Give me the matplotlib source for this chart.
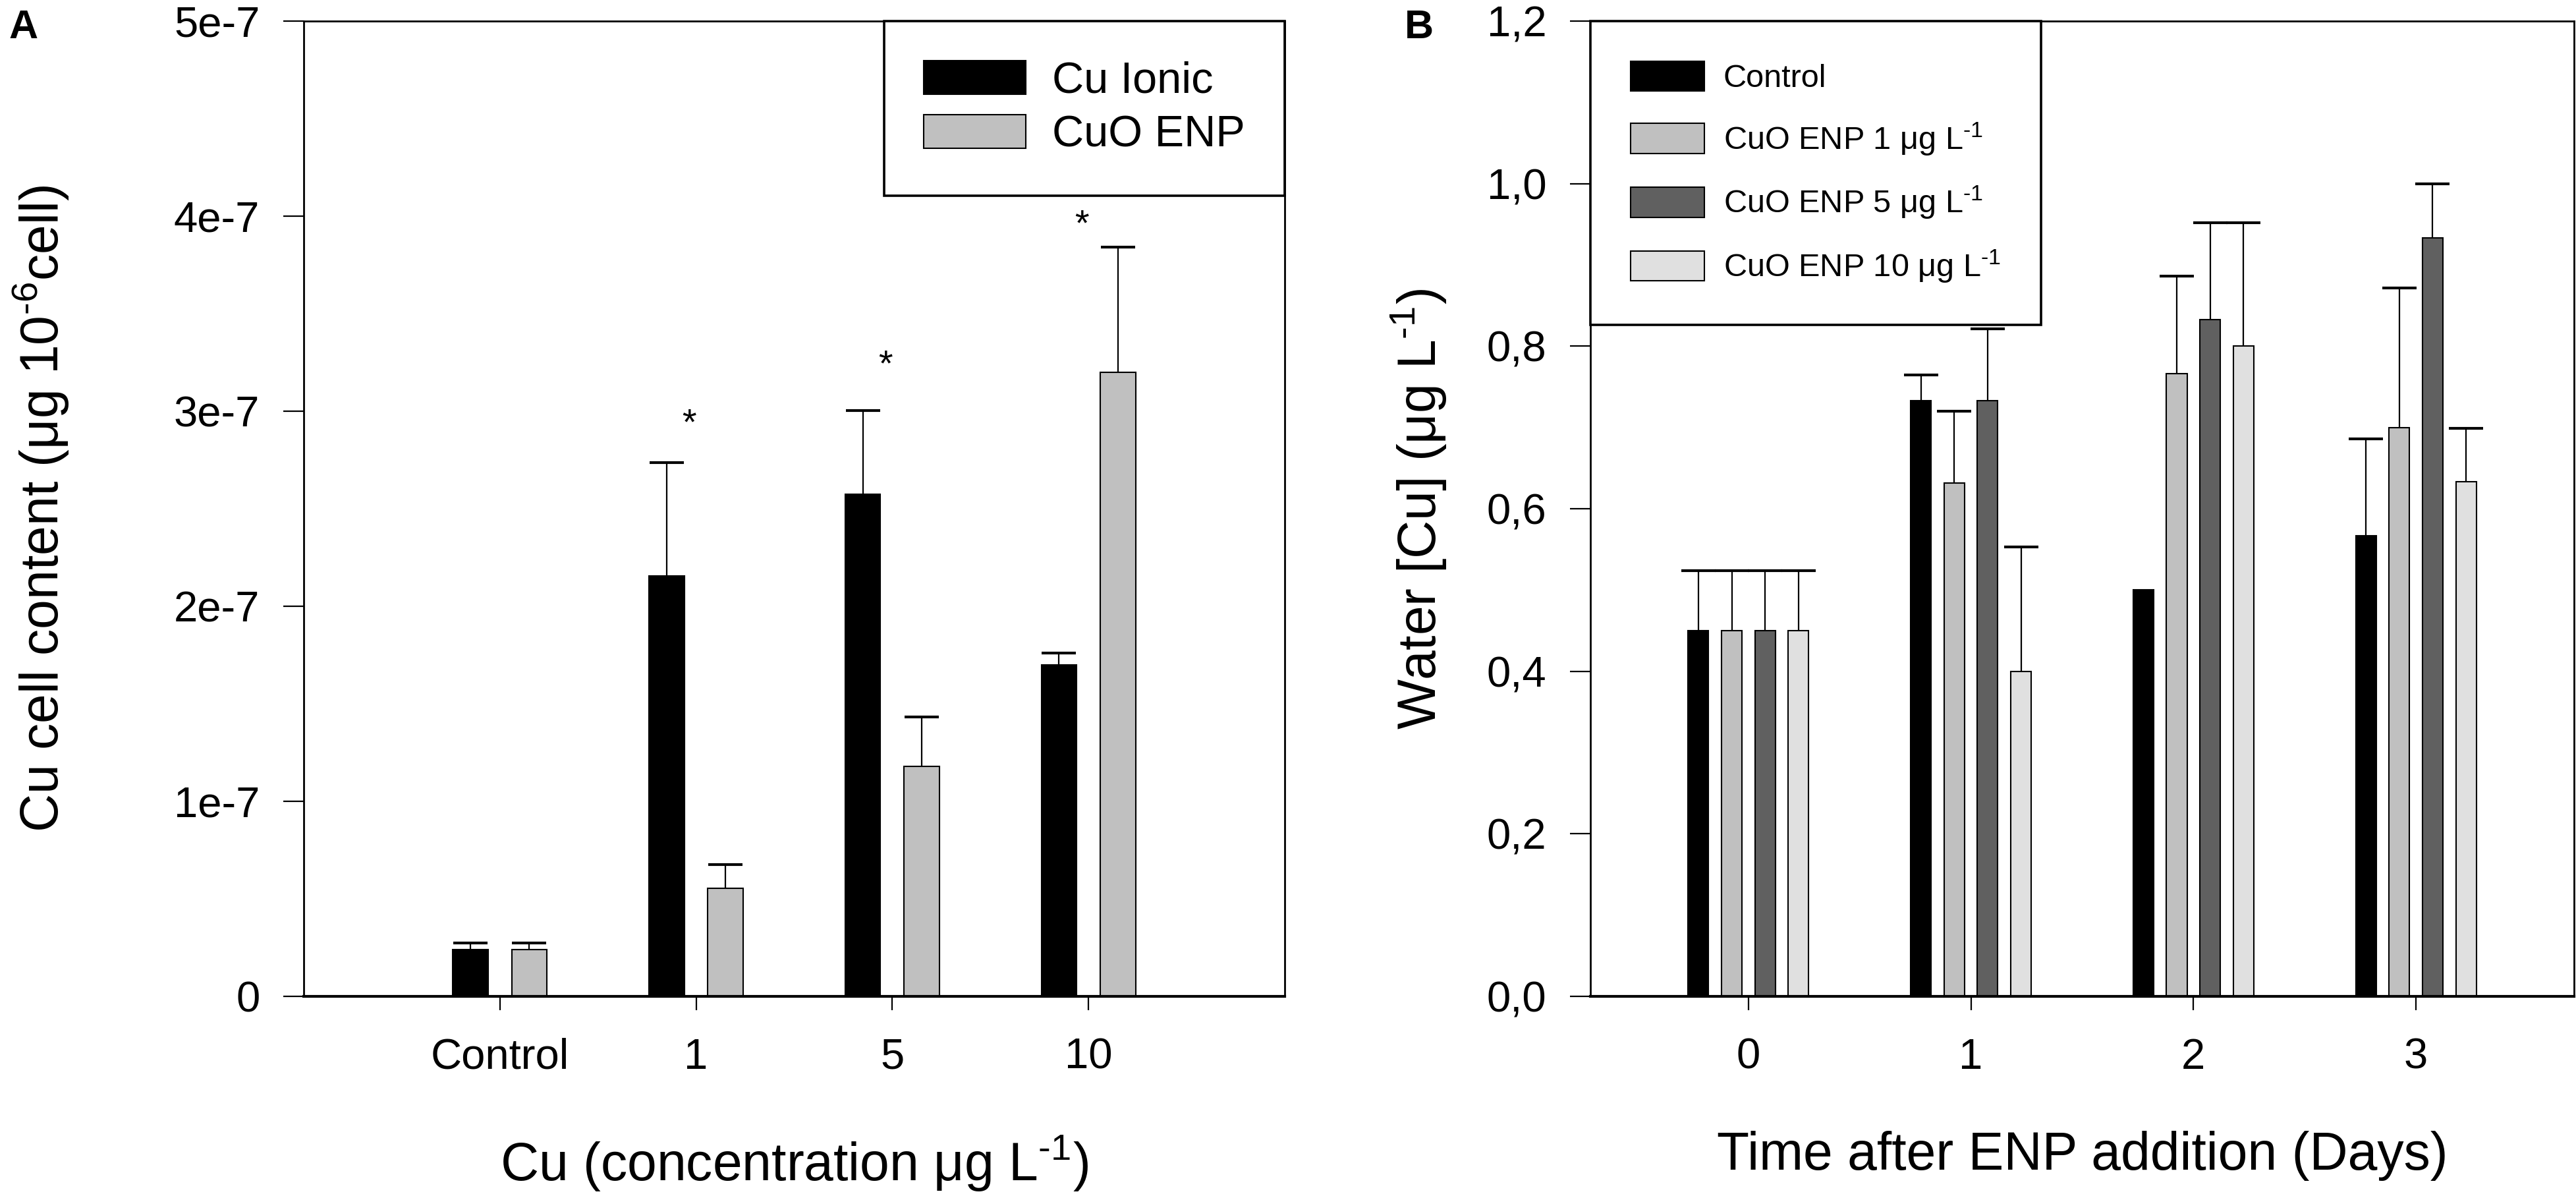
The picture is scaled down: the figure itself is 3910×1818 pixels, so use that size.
import numpy as np
import matplotlib

matplotlib.use('Agg')
import matplotlib.pyplot as plt
from matplotlib.ticker import FuncFormatter

plt.rcParams['font.family'] = ['Liberation Sans', 'DejaVu Sans']
plt.rcParams['mathtext.fontset'] = 'custom'
plt.rcParams['mathtext.rm'] = 'Liberation Sans'
plt.rcParams['mathtext.it'] = 'Liberation Sans:italic'
plt.rcParams['mathtext.bf'] = 'Liberation Sans:bold'

# panel A: Cu cell content
conc_labels = ['Control', '1', '5', '10']
ionic = np.array([0.24e-7, 2.156e-7, 2.574e-7, 1.70e-7])
ionic_err = np.array([0.035e-7, 0.58e-7, 0.43e-7, 0.06e-7])
enp = np.array([0.24e-7, 0.555e-7, 1.18e-7, 3.20e-7])
enp_err = np.array([0.035e-7, 0.12e-7, 0.254e-7, 0.64e-7])
star_groups = [1, 2, 3]
star_y = [2.93e-7, 3.23e-7, 3.95e-7]

# panel B: water Cu over time
days = ['0', '1', '2', '3']
control = np.array([0.45, 0.733, 0.500, 0.567])
control_err = np.array([0.074, 0.032, 0.0, 0.119])
enp1 = np.array([0.45, 0.632, 0.766, 0.700])
enp1_err = np.array([0.074, 0.088, 0.120, 0.172])
enp5 = np.array([0.45, 0.733, 0.833, 0.933])
enp5_err = np.array([0.074, 0.088, 0.119, 0.067])
enp10 = np.array([0.45, 0.400, 0.800, 0.633])
enp10_err = np.array([0.074, 0.153, 0.152, 0.066])

TICK_FS = 47
LABEL_FS = 58
SUP = r'$^{\text{-1}}$'


def upper_errorbar(ax, x, y, err):
    keep = err > 0  # no bar at all where there is no error
    x, y, err = x[keep], y[keep], err[keep]
    _, caps, _ = ax.errorbar(x, y, yerr=[np.zeros_like(err), err], fmt='none',
                             ecolor='k', elinewidth=1.6, capsize=19, capthick=3,
                             zorder=1)
    # keep only the upper caps
    for cap in caps:
        if np.allclose(cap.get_ydata(), y):
            cap.set_visible(False)


def style_axes(ax):
    for side in ['left', 'right', 'top']:
        ax.spines[side].set_linewidth(2.0)
    ax.spines['bottom'].set_linewidth(3.0)
    ax.tick_params(axis='x', direction='out', length=15, width=1.6,
                   labelsize=TICK_FS, pad=30)
    ax.tick_params(axis='y', direction='out', length=22, width=1.6,
                   labelsize=TICK_FS, pad=26)


fig = plt.figure(figsize=(39.1, 18.18), dpi=100)

# ---- panel A
axA = fig.add_axes([0.1179, 0.1683, 0.3808, 0.8141])
x = np.arange(len(conc_labels))
w = 0.18
axA.bar(x - 0.15, ionic, w, color='black', edgecolor='black', linewidth=1.5,
        label='Cu Ionic', zorder=2)
axA.bar(x + 0.15, enp, w, color='#c0c0c0', edgecolor='black', linewidth=1.5,
        label='CuO ENP', zorder=2)
upper_errorbar(axA, x - 0.15, ionic, ionic_err)
upper_errorbar(axA, x + 0.15, enp, enp_err)
for g, sy in zip(star_groups, star_y):
    axA.text(g - 0.035, sy, '*', ha='center', va='center', fontsize=40)
axA.set_xlim(-1.0, 4.0)
axA.set_ylim(0, 5e-7)
axA.set_xticks(x)
axA.set_xticklabels(conc_labels)
axA.set_yticks(np.arange(0, 5.1e-7, 1e-7))
axA.yaxis.set_major_formatter(FuncFormatter(
    lambda v, p: '0' if v == 0 else '%de-7' % round(v / 1e-7)))
style_axes(axA)
axA.set_ylabel(r'Cu cell content (μg 10$^{\text{-6}}$cell)', fontsize=LABEL_FS)
axA.yaxis.set_label_coords(-0.238, 0.5)
axA.set_xlabel('Cu (concentration μg L' + SUP + ')', fontsize=LABEL_FS)
axA.xaxis.set_label_coords(0.5, -0.14)
legA = axA.legend(loc='upper right', borderaxespad=0, fontsize=48,
                  handlelength=2.33, handleheight=0.79, handletextpad=0.6,
                  borderpad=0.9, labelspacing=0.3, fancybox=False,
                  framealpha=1, edgecolor='black')
legA.get_frame().set_linewidth(2.6)

# ---- panel B
axB = fig.add_axes([0.6174, 0.1683, 0.3818, 0.8141])
xb = np.arange(len(days))
wb = 0.092
series = [(control, control_err, 'black', 'Control'),
          (enp1, enp1_err, '#c0c0c0', 'CuO ENP 1 μg L' + SUP),
          (enp5, enp5_err, '#606060', 'CuO ENP 5 μg L' + SUP),
          (enp10, enp10_err, '#e0e0e0', 'CuO ENP 10 μg L' + SUP)]
offsets = [-0.225, -0.075, 0.075, 0.225]
for (vals, errs, col, lab), off in zip(series, offsets):
    axB.bar(xb + off, vals, wb, color=col, edgecolor='black', linewidth=1.5,
            label=lab, zorder=2)
    upper_errorbar(axB, xb + off, vals, errs)
axB.set_xlim(-0.71, 3.71)
axB.set_ylim(0, 1.2)
axB.set_xticks(xb)
axB.set_xticklabels(days)
axB.set_yticks(np.arange(0, 1.21, 0.2))
axB.yaxis.set_major_formatter(FuncFormatter(
    lambda v, p: ('%.1f' % v).replace('.', ',')))
style_axes(axB)
axB.set_ylabel('Water [Cu] (μg L' + SUP + ')', fontsize=LABEL_FS)
axB.yaxis.set_label_coords(-0.145, 0.5)
axB.set_xlabel('Time after ENP addition (Days)', fontsize=LABEL_FS)
axB.xaxis.set_label_coords(0.5, -0.138)
legB = axB.legend(loc='upper left', borderaxespad=0, fontsize=35,
                  handlelength=2.3, handleheight=1.07, handletextpad=0.6,
                  borderpad=1.25, labelspacing=0.85, fancybox=False,
                  framealpha=1, edgecolor='black')
legB.get_frame().set_linewidth(2.6)

fig.text(13 / 3910, 1 - 14 / 1818, 'A', ha='left', va='top', fontsize=44,
         fontweight='bold')
fig.text(2132 / 3910, 1 - 14 / 1818, 'B', ha='left', va='top', fontsize=44,
         fontweight='bold')

fig.savefig('out.png', dpi=100)
